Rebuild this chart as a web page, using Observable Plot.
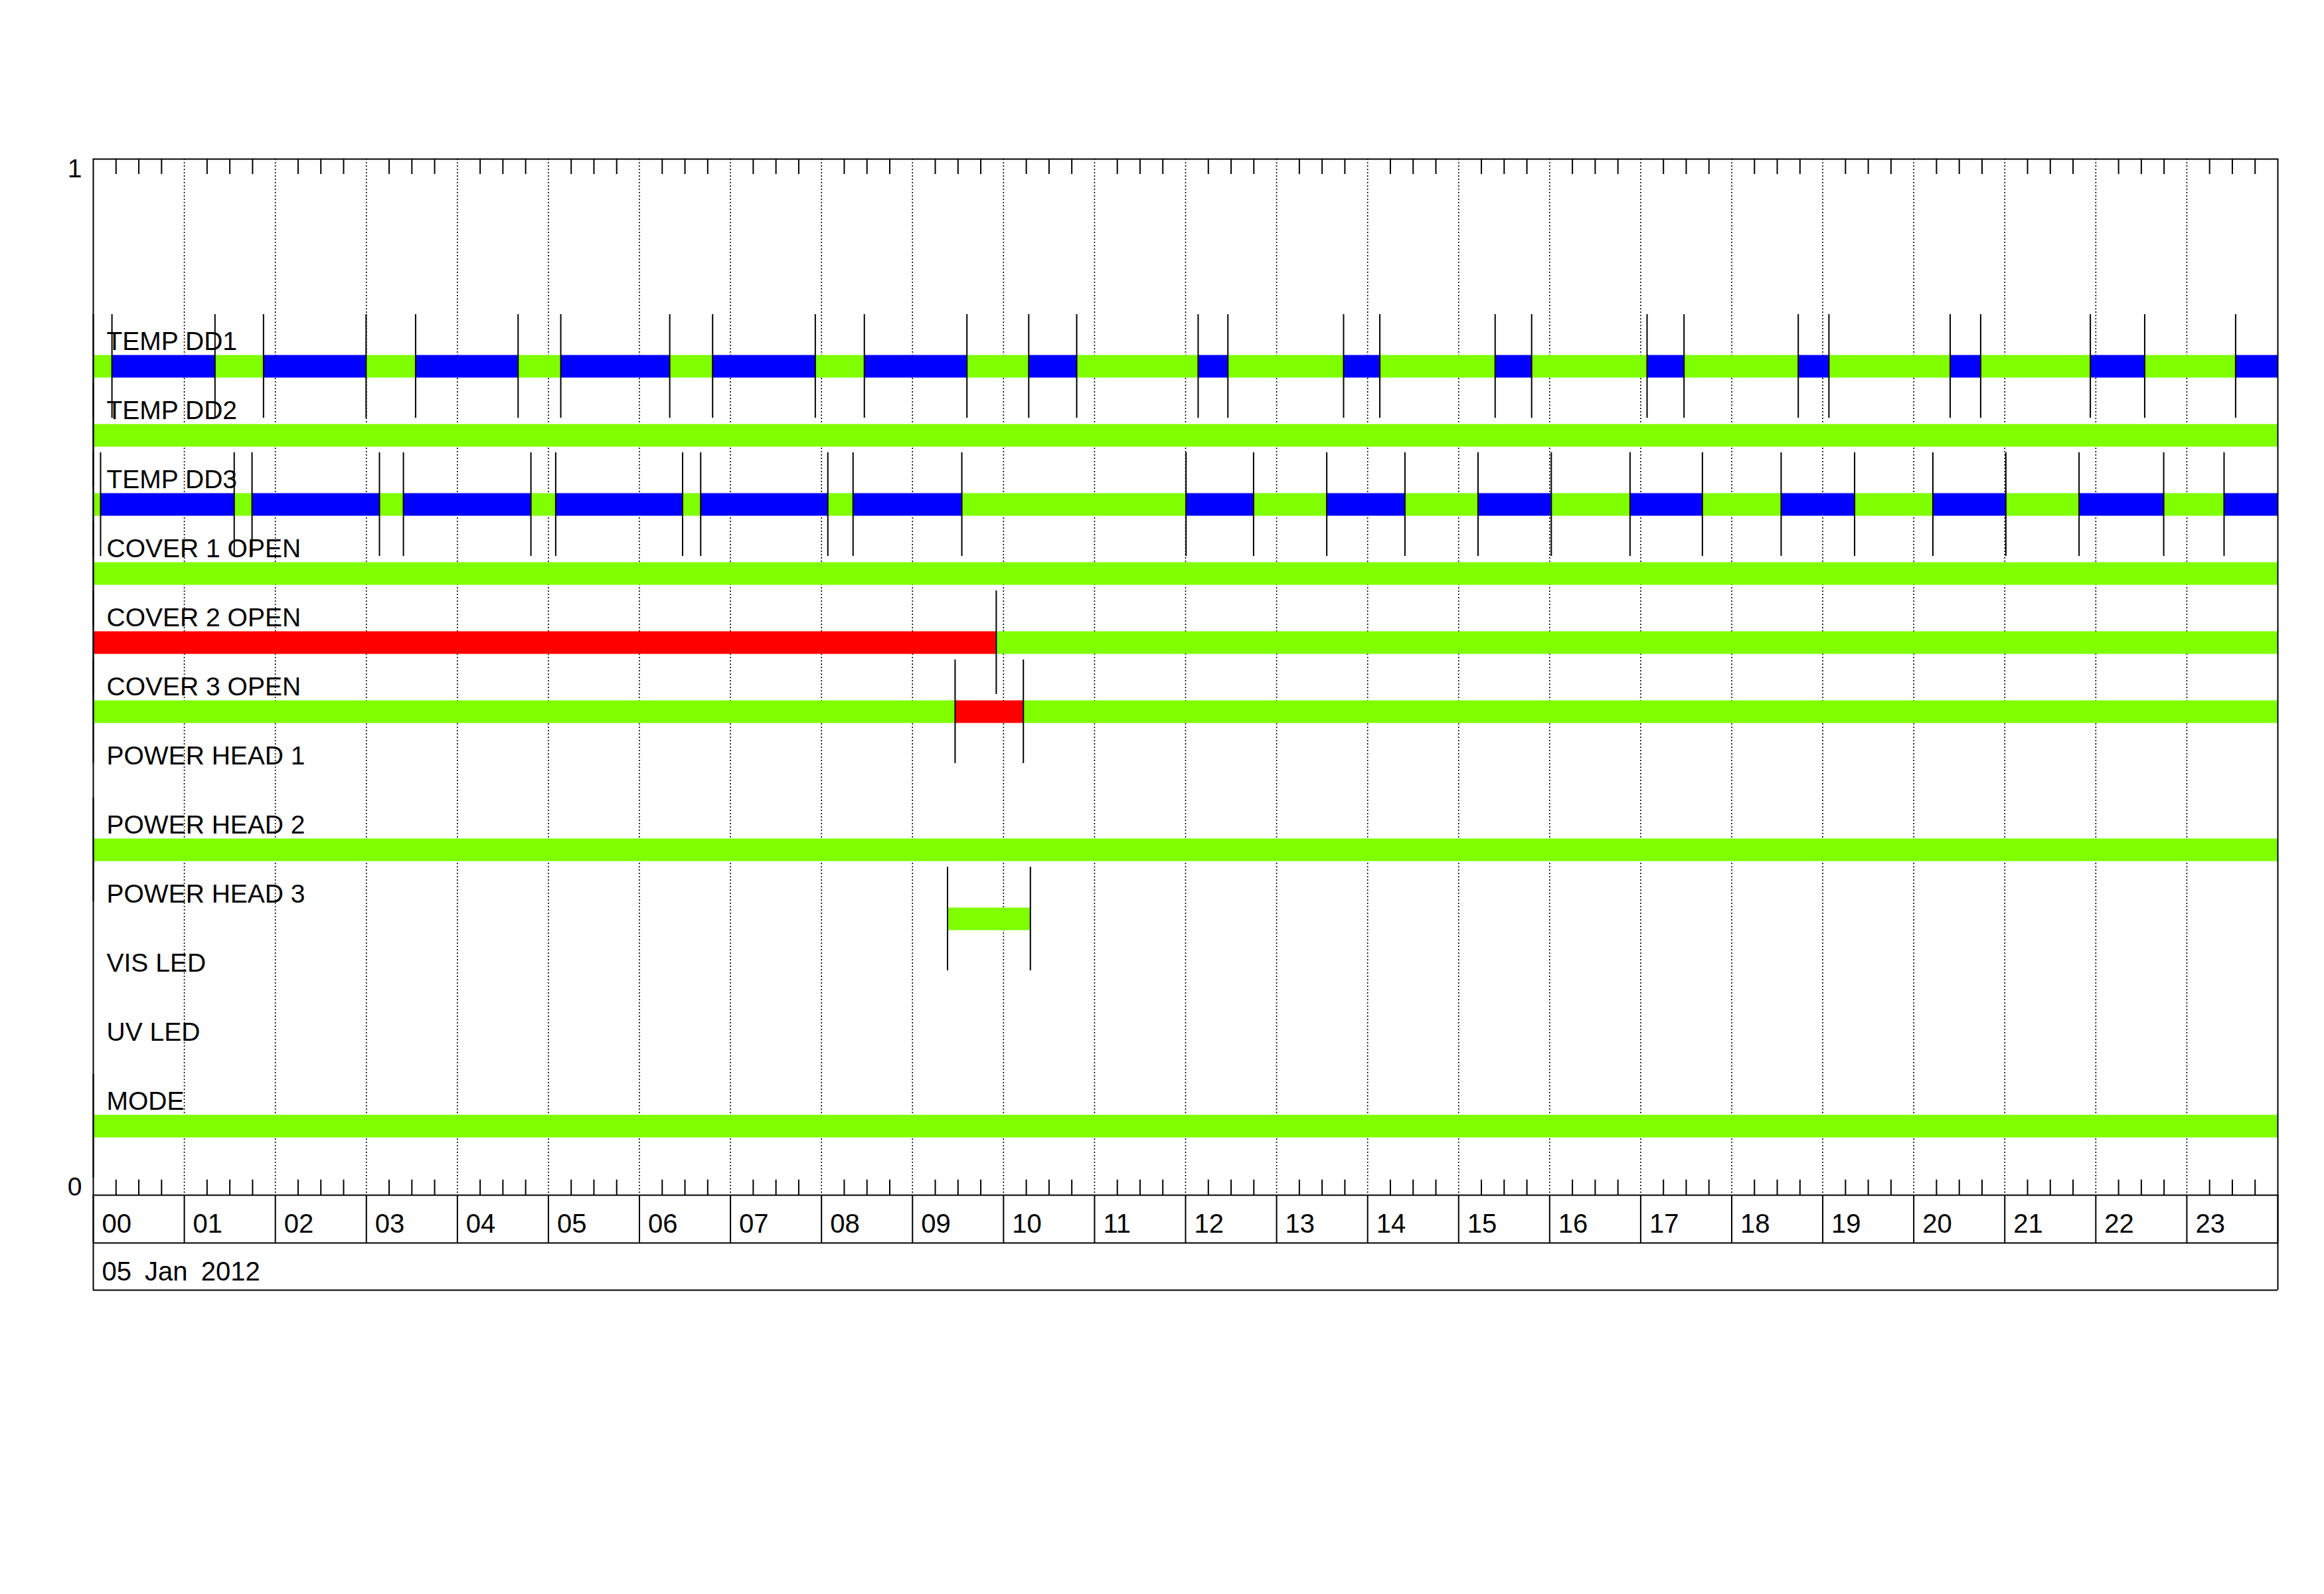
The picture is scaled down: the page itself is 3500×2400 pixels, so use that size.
<!DOCTYPE html>
<html>
<head>
<meta charset="utf-8">
<script src="https://cdn.jsdelivr.net/npm/d3@7"></script>
<script src="https://cdn.jsdelivr.net/npm/@observablehq/plot@0.6"></script>
<style>
  html, body { margin: 0; padding: 0; background: #fff; }
  #chart svg { display: block; }
</style>
</head>
<body>
<div id="chart"></div>
<script>
// ---------- data ----------
const rowNames = ["TEMP DD1", "TEMP DD2", "TEMP DD3", "COVER 1 OPEN", "COVER 2 OPEN", "COVER 3 OPEN",
                  "POWER HEAD 1", "POWER HEAD 2", "POWER HEAD 3", "VIS LED", "UV LED", "MODE"];
const hourLabels = ["00","01","02","03","04","05","06","07","08","09","10","11",
                    "12","13","14","15","16","17","18","19","20","21","22","23"];
const dateLabel = "05 Jan 2012";
const yLabels = [0, 1];
const stateColors = {g: "#7fff00", b: "#0000ff", r: "#ff0000"};

// state change times (hours of day) and the state of each interval
const tempDD1Edges = [0, 0.205, 1.337, 1.870, 2.997, 3.541, 4.667, 5.136, 6.333, 6.804, 7.932, 8.471,
  9.598, 10.277, 10.804, 12.138, 12.465, 13.736, 14.134, 15.401, 15.802, 17.070, 17.476, 18.731,
  19.068, 20.400, 20.735, 21.940, 22.537, 23.536, 24];
const tempDD1States = "gbgbgbgbgbgbgbgbgbgbgbgbgbgbgb";
const tempDD2Edges = [0, 24];
const tempDD2States = "g";
const tempDD3Edges = [0, 0.080, 1.548, 1.744, 3.144, 3.407, 4.808, 5.080, 6.474, 6.673, 8.070, 8.347,
  9.542, 12.005, 12.747, 13.551, 14.410, 15.213, 16.018, 16.883, 17.678, 18.543, 19.350, 20.210,
  21.012, 21.816, 22.746, 23.409, 24];
const tempDD3States = "gbgbgbgbgbgbgbgbgbgbgbgbgbgb";
const cover1Edges = [0, 24];
const cover1States = "g";
const cover2Edges = [0, 9.920, 24];
const cover2States = "rg";
const cover3Edges = [0, 9.468, 10.218, 24];
const cover3States = "grg";
const powerHead2Edges = [0, 24];
const powerHead2States = "g";
const powerHead3Edges = [9.385, 10.295];
const powerHead3States = "g";
const modeEdges = [0, 24];
const modeStates = "g";

const series = [
  {row: 0, edges: tempDD1Edges, states: tempDD1States},
  {row: 1, edges: tempDD2Edges, states: tempDD2States},
  {row: 2, edges: tempDD3Edges, states: tempDD3States},
  {row: 3, edges: cover1Edges, states: cover1States},
  {row: 4, edges: cover2Edges, states: cover2States},
  {row: 5, edges: cover3Edges, states: cover3States},
  {row: 7, edges: powerHead2Edges, states: powerHead2States},
  {row: 8, edges: powerHead3Edges, states: powerHead3States},
  {row: 11, edges: modeEdges, states: modeStates}
];

// ---------- layout ----------
const W = 3500, H = 2400;
const mt = 239, mb = 601, ml = 140, mr = 70;
const plotH = H - mt - mb;
const rowStep = 1 / 15;
const rowY = i => (rowNames.length - i) * rowStep;
const markerHalf = 0.05;
const tickLen = 23;
const rowH1 = 72, rowH2 = 143;

const segments = series.flatMap(s =>
  s.states.split("").map((st, k) => ({row: s.row, start: s.edges[k], end: s.edges[k + 1], color: stateColors[st]})));
const markers = series.flatMap(s =>
  s.edges.filter(e => e < 24).map(e => ({row: s.row, x: e})));

const hours = hourLabels.map((d, i) => i);
const innerHours = hours.filter(h => h > 0);
const quarterTicks = hours.flatMap(h => [h + 0.25, h + 0.5, h + 0.75]);

const chart = Plot.plot({
  width: W, height: H,
  marginTop: mt, marginBottom: mb, marginLeft: ml, marginRight: mr,
  x: {domain: [0, 24], axis: null},
  y: {domain: [0, 1], axis: null},
  color: {type: "identity"},
  style: {fontFamily: "'Liberation Sans', Arial, sans-serif", fontSize: "39px", background: "#fff", color: "#000"},
  marks: [
    // hour grid (dotted)
    Plot.ruleX(innerHours, {stroke: "#000", strokeWidth: 1.6, strokeDasharray: "2,3"}),
    // quarter-hour ticks on top and bottom
    Plot.ruleX(quarterTicks, {stroke: "#000", strokeWidth: 2, insetBottom: plotH - tickLen}),
    Plot.ruleX(quarterTicks, {stroke: "#000", strokeWidth: 2, insetTop: plotH - tickLen}),
    // state bars
    Plot.ruleY(segments, {y: d => rowY(d.row), x1: "start", x2: "end", stroke: "color", strokeWidth: 34}),
    // state-change markers
    Plot.ruleX(markers, {x: "x", y1: d => rowY(d.row) - markerHalf, y2: d => rowY(d.row) + markerHalf,
                         stroke: "#000", strokeWidth: 2}),
    // row labels
    Plot.text(rowNames, {frameAnchor: "left", y: (d, i) => rowY(i), text: d => d, dx: 20, dy: -25,
                         textAnchor: "start", lineAnchor: "bottom", fontSize: 39, fill: "#000"}),
    // y labels 0 and 1
    Plot.text(yLabels.filter(v => v === 1), {frameAnchor: "left", y: d => d, text: d => String(d), dx: -17,
                         textAnchor: "end", lineAnchor: "top", fontSize: 39, fill: "#000"}),
    Plot.text(yLabels.filter(v => v === 0), {frameAnchor: "left", y: d => d, text: d => String(d), dx: -17,
                         textAnchor: "end", lineAnchor: "bottom", fontSize: 39, fill: "#000"}),
    // hour label row separators
    Plot.ruleX(hours.concat([24]), {stroke: "#000", strokeWidth: 2, insetTop: plotH, insetBottom: -rowH1}),
    Plot.ruleX([0, 24], {stroke: "#000", strokeWidth: 2, insetTop: plotH, insetBottom: -rowH2}),
    Plot.ruleY([0], {stroke: "#000", strokeWidth: 2, dy: rowH1}),
    Plot.ruleY([0], {stroke: "#000", strokeWidth: 2, dy: rowH2}),
    // hour labels
    Plot.text(hourLabels, {x: (d, i) => i, frameAnchor: "bottom", text: d => d, dx: 13, dy: 56,
                           textAnchor: "start", lineAnchor: "bottom", fontSize: 40, fill: "#000"}),
    // date label
    Plot.text([dateLabel], {frameAnchor: "bottom-left", text: d => d, dx: 13, dy: 128,
                            textAnchor: "start", lineAnchor: "bottom", fontSize: 40, fill: "#000"}),
    Plot.frame({stroke: "#000", strokeWidth: 2})
  ]
});

d3.select(chart).selectAll("text").filter(function() { return this.textContent === dateLabel; })
  .style("word-spacing", "9px");

document.getElementById("chart").appendChild(chart);
</script>
</body>
</html>
